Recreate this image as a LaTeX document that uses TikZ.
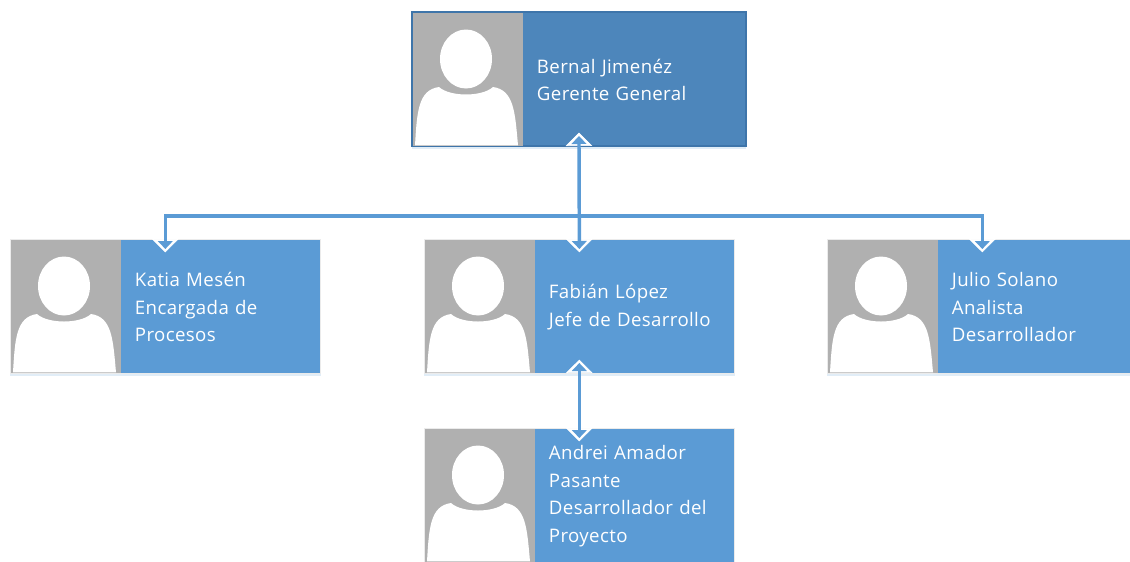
\documentclass[tikz,border=0pt]{standalone}
\usepackage{fontspec}
\usepackage{xcolor}
\usetikzlibrary{arrows.meta,shadows}
\setmainfont[LetterSpace=2]{Open Sans}

\definecolor{cardblue}{RGB}{91,155,213}
\definecolor{bossblue}{RGB}{77,134,187}
\definecolor{bossline}{RGB}{62,117,170}
\definecolor{photogray}{RGB}{176,176,176}

\tikzset{
    card/.style={anchor=north west, minimum width=233pt, minimum height=100.5pt, inner sep=0pt, outer sep=0pt, fill=cardblue, draw=black!8, line width=.6pt,
        drop shadow={shadow xshift=0pt, shadow yshift=-2pt, opacity=.3, fill=cardblue!60}},
    bosscard/.style={card, minimum width=250.5pt, fill=bossblue, draw=bossline, line width=1pt},
    photo/.style={anchor=north west, minimum width=82.5pt, minimum height=100.1pt, inner sep=0pt, outer sep=0pt, fill=photogray},
    cardtext/.style={anchor=west, text=white, text width=145pt, inner sep=0pt, align=left, font=\fontsize{14}{20.6}\selectfont},
    haloline/.style={draw=white, line width=.5pt, shorten >=-10pt, -{Triangle[width=20pt, length=10pt, color=white]}},
    haloboth/.style={haloline, shorten <=-10pt, {Triangle[width=20pt, length=10pt, color=white]}-{Triangle[width=20pt, length=10pt, color=white]}},
    fullline/.style={draw=cardblue, line width=2.6pt, shorten >=-7.5pt, -{Triangle[width=11pt, length=6pt, color=cardblue]}},
    fullboth/.style={fullline, shorten <=-7.5pt, {Triangle[width=11pt, length=6pt, color=cardblue]}-{Triangle[width=11pt, length=6pt, color=cardblue]}}
}

% card with silhouette: name, position, text
\newcommand{\PersonCard}[4][card]{
    \node[#1] (#2) at (#3) {};
    \node[photo] (#2photo) at ([xshift=.4pt, yshift=-.4pt]#2.north west) {};
    \begin{scope}[shift={(#2.north west)}]
        \fill[white] (54,47) ellipse (26 and 29.5);
        \fill[white] (3,133.4) .. controls (5,100) and (6,78) .. (27,75) .. controls (38,85) and (70,85) .. (81,75) .. controls (102,78) and (103,100) .. (106,133.4) -- cycle;
    \end{scope}
    \node[cardtext] (#2text) at ([xshift=10.6pt, yshift=-.6pt]#2photo.east) {#4};
}

\begin{document}
\begin{tikzpicture}[x=.75pt, y=-.75pt]
    \useasboundingbox (0,0) rectangle (1130,561);

    \PersonCard[bosscard]{bernal}{412,12}{Bernal Jimenéz\\Gerente General}
    \PersonCard{katia}{10,239}{Katia Mesén\\Encargada de\\Procesos}
    \PersonCard{fabian}{424,239}{Fabián López\\Jefe de Desarrollo}
    \PersonCard{julio}{827,239}{Julio Solano\\Analista\\Desarrollador}
    \PersonCard{andrei}{424,428}{Andrei Amador\\Pasante\\Desarrollador del\\Proyecto}

    \coordinate (bus) at (579,216);
    \foreach \layer/\both in {haloline/haloboth, fullline/fullboth} {
        \draw[\layer] (bus) -| (katia.north);
        \draw[\layer] (bus) -| (julio.north);
        \draw[\both] (bernal.south) -- (fabian.north);
        \draw[\both] (fabian.south) -- (andrei.north);
    }
\end{tikzpicture}
\end{document}
